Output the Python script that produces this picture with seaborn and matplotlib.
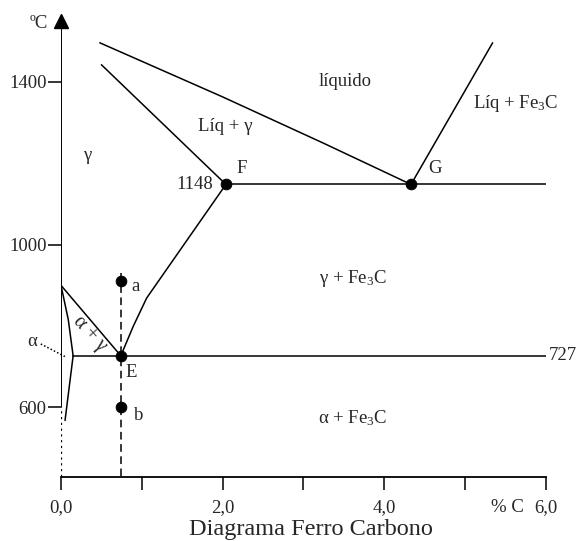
import pandas as pd
import seaborn as sns
import matplotlib.pyplot as plt

# phase boundaries (x = % C, t = temperature in ºC)
liquidus_x = [0.48, 2.00, 3.24, 4.33]
liquidus_t = [1496, 1363, 1250, 1148]
solidus_x = [0.50, 2.04]
solidus_t = [1442, 1148]
liq_fe3c_x = [4.33, 5.34]
liq_fe3c_t = [1148, 1496]
acm_x = [2.04, 1.06, 0.895, 0.74]
acm_t = [1148, 869, 800, 727]
a3_x = [0.0, 0.74]
a3_t = [900, 727]
alpha_x = [0.0, 0.09, 0.15]
alpha_t = [900, 816, 727]
solvus_x = [0.15, 0.05]
solvus_t = [727, 568]
eutectoid_x = [0.15, 6.0]
eutectoid_t = [727, 727]
eutectic_x = [2.04, 6.0]
eutectic_t = [1148, 1148]

# marked points
point_names = ["E", "F", "G", "a", "b"]
point_x = [0.74, 2.04, 4.33, 0.74, 0.74]
point_t = [727, 1148, 1148, 910, 600]

xticks = [0, 1, 2, 3, 4, 5, 6]
xtick_labels = ["0,0", "", "2,0", "", "4,0", "", "6,0"]
yticks = [600, 1000, 1400]

sns.set_style("white")
plt.rcParams["font.family"] = ["Liberation Serif", "DejaVu Serif"]
plt.rcParams["mathtext.fontset"] = "custom"
plt.rcParams["mathtext.rm"] = "Liberation Serif"
plt.rcParams["mathtext.it"] = "Liberation Serif:italic"

fig = plt.figure(figsize=(5.76, 5.41), dpi=100)
ax = fig.add_axes([0.1059, 0.1189, 0.842, 0.8577])

curves = [
    (liquidus_x, liquidus_t), (solidus_x, solidus_t), (liq_fe3c_x, liq_fe3c_t),
    (acm_x, acm_t), (a3_x, a3_t), (alpha_x, alpha_t), (solvus_x, solvus_t),
    (eutectoid_x, eutectoid_t), (eutectic_x, eutectic_t),
]
for cx, ct in curves:
    df = pd.DataFrame({"x": cx, "t": ct})
    sns.lineplot(data=df, x="x", y="t", sort=False, estimator=None,
                 color="black", lw=1.1, ax=ax)

# dashed vertical through E, a, b
ax.plot([0.74, 0.74], [930, 430], color="black", lw=1.1, ls=(0, (5, 3)))

# y axis: dotted below 600, solid above, arrow on top
ax.plot([0, 0], [430, 600], color="black", lw=1.6, ls=(0, (1, 1.6)))
ax.plot([0, 0], [600, 1540], color="black", lw=1.4, solid_capstyle="butt")
ax.plot([0], [1549], marker="^", ms=9.5, color="black", clip_on=False)

# dotted pointer to alpha region
ax.plot([-0.25, 0.05], [756, 725], color="black", lw=1.1, ls=(0, (1, 1.4)),
        clip_on=False)

pts = pd.DataFrame({"name": point_names, "x": point_x, "t": point_t})
sns.scatterplot(data=pts, x="x", y="t", color="black", s=60, edgecolor="black",
                zorder=5, ax=ax)

fs = 13.5
ax.text(0.92, 898, "a", fontsize=fs, ha="center", va="center")
ax.text(0.965, 580, "b", fontsize=fs, ha="center", va="center")
ax.text(0.87, 686, "E", fontsize=fs, ha="center", va="center")
ax.text(2.24, 1188, "F", fontsize=fs, ha="center", va="center")
ax.text(4.63, 1188, "G", fontsize=fs, ha="center", va="center")
ax.text(1.88, 1148, "1148", fontsize=fs, ha="right", va="center")
ax.text(6.03, 727, "727", fontsize=fs, ha="left", va="center", clip_on=False)
ax.text(3.51, 1400, "líquido", fontsize=fs, ha="center", va="center")
ax.text(2.03, 1290, "Líq + γ", fontsize=fs, ha="center", va="center")
ax.text(5.63, 1346, "Líq + Fe$_3$C", fontsize=fs, ha="center", va="center")
ax.text(0.32, 1218, "γ", fontsize=fs, ha="center", va="center")
ax.text(3.61, 916, "γ + Fe$_3$C", fontsize=fs, ha="center", va="center")
ax.text(3.61, 573, "α + Fe$_3$C", fontsize=fs, ha="center", va="center")
ax.text(0.35, 782, "α + γ", fontsize=14.5, ha="center", va="center",
        rotation=-48)
ax.text(-0.36, 763, "α", fontsize=fs, ha="center", va="center", clip_on=False)
ax.text(-0.28, 1544, "ºC", fontsize=fs, ha="center", va="center", clip_on=False)

ax.set_xlim(0, 6)
ax.set_ylim(430, 1570)
ax.set_xticks(xticks)
ax.set_xticklabels(xtick_labels, fontsize=fs)
ax.set_yticks(yticks)
ax.set_yticklabels([str(v) for v in yticks], fontsize=fs)
ax.tick_params(axis="both", direction="out", length=9.4, width=1.1,
               color="black", bottom=True, left=True)
ax.tick_params(axis="x", pad=7)
ax.tick_params(axis="y", pad=1)
ax.set_xlabel("")
ax.set_ylabel("")
ax.text(5.52, -0.066, "% C", fontsize=fs, ha="center", va="center",
        transform=ax.get_xaxis_transform())
for side in ["top", "right", "left"]:
    ax.spines[side].set_visible(False)
ax.spines["bottom"].set_color("black")
ax.spines["bottom"].set_linewidth(1.3)
ax.patch.set_alpha(0)

fig.text(0.54, 0.022, "Diagrama Ferro Carbono", fontsize=17.5, ha="center",
         va="center")

fig.savefig("out.png", dpi=100)
